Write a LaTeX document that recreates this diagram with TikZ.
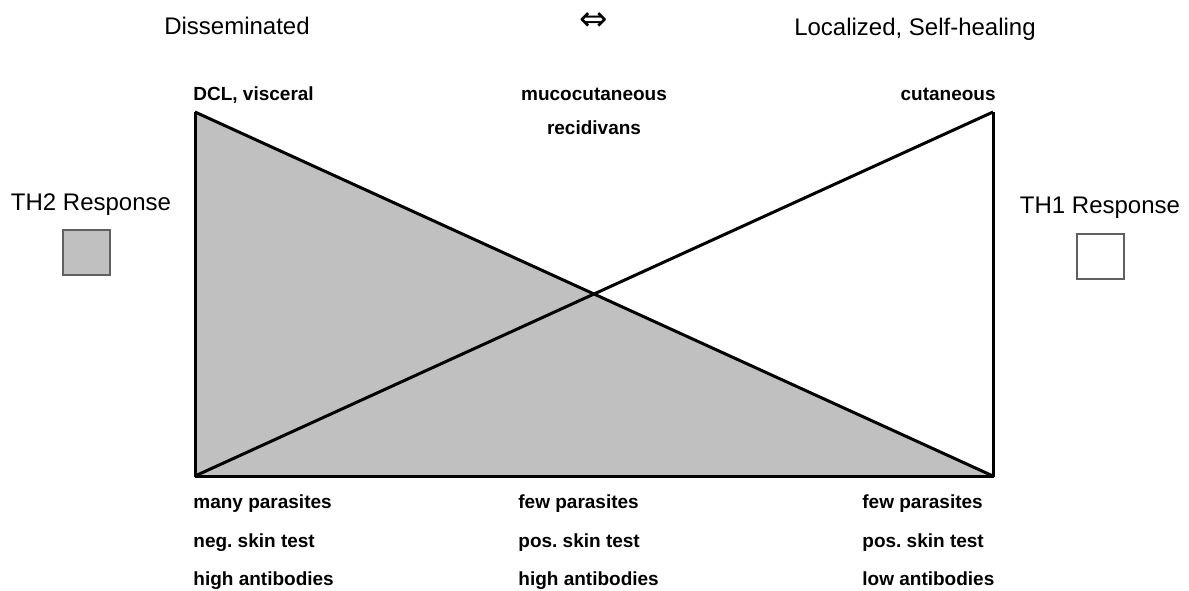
\documentclass[tikz,border=0pt]{standalone}
\usepackage{fontspec}
\setmainfont{Liberation Sans}
\newfontfamily\symfont{DejaVu Sans}
\definecolor{th2-fill}{HTML}{C0C0C0}
\definecolor{key-line}{HTML}{606060}
\usetikzlibrary{positioning}
\frenchspacing

\begin{document}
\begin{tikzpicture}[x=0.5pt,y=-0.5pt,
  head/.style={font=\fontsize{12}{14}\selectfont,inner sep=0pt,anchor=base},
  lbl/.style={font=\fontsize{9.5}{11}\selectfont\bfseries,inner sep=0pt},
  key/.style={draw=key-line,line width=0.6pt,minimum width=23.5pt,minimum height=22.5pt,inner sep=0pt},
  edge/.style={line width=1.5pt,line join=round}]
\useasboundingbox (0,0) rectangle (1189,590);
% corners of the open box
\coordinate (TL) at (195,112);
\coordinate (BL) at (195,476);
\coordinate (BR) at (993,476);
\coordinate (TR) at (993,112);
\fill[th2-fill] (TL)--(BL)--(BR)--cycle;
\draw[edge] (TL)--(BL)--(BR)--(TR);
\draw[edge] (TL)--(BR);
\draw[edge] (BL)--(TR);
% headings
\node[head] (dis) at (237,34) {Disseminated};
\node[inner sep=0pt,font=\symfont\fontsize{17}{18}\selectfont] (sym) at (594,22) {⇔};
\node[head] (loc) at (915,35) {Localized, Self-healing};
% legend
\node[head] (th2) at (91,210) {TH2 Response};
\node[key,fill=th2-fill] (k2) at (86.5,252.5) {};
\node[head] (th1) at (1100,213) {TH1 Response};
\node[key,fill=white] (k1) at (1100.5,256.5) {};
% labels above
\node[lbl,anchor=base west] (dcl) at (193,100) {DCL, visceral};
\node[lbl,anchor=base] (muc) at (594,100) {mucocutaneous};
\node[lbl,anchor=base] (rec) at (594,134) {recidivans};
\node[lbl,anchor=base east] (cut) at (996,100) {cutaneous};
% labels below
\node[lbl,anchor=base west] (p1) at (193,508) {many parasites};
\node[lbl,anchor=base west] (s1) at (193,547) {neg. skin test};
\node[lbl,anchor=base west] (a1) at (193,585) {high antibodies};
\node[lbl,anchor=base west] (p2) at (518,508) {few parasites};
\node[lbl,anchor=base west] (s2) at (518,547) {pos. skin test};
\node[lbl,anchor=base west] (a2) at (518,585) {high antibodies};
\node[lbl,anchor=base west] (p3) at (862,508) {few parasites};
\node[lbl,anchor=base west] (s3) at (862,547) {pos. skin test};
\node[lbl,anchor=base west] (a3) at (862,585) {low antibodies};
\end{tikzpicture}
\end{document}
